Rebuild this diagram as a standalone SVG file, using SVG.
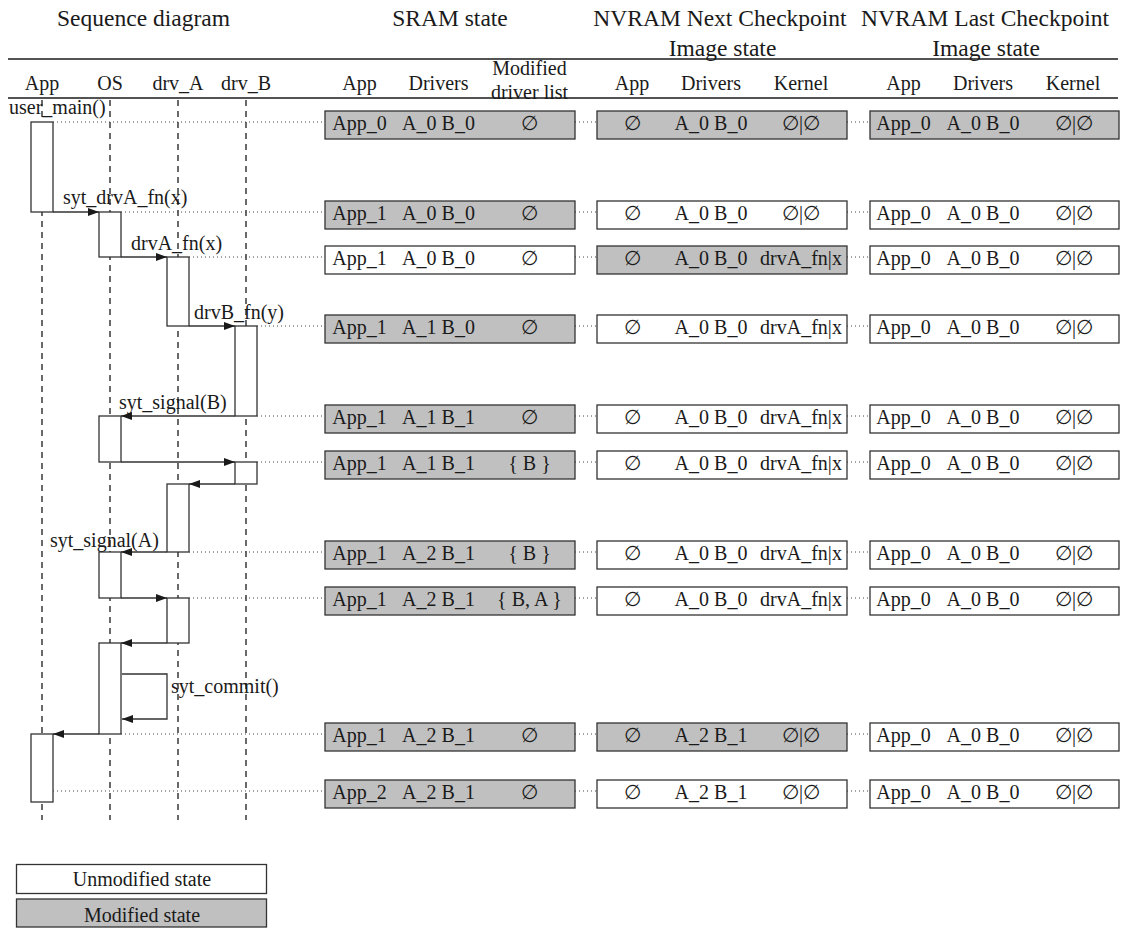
<svg xmlns="http://www.w3.org/2000/svg" width="1123" height="929" viewBox="0 0 1123 929">
<defs>
<style>
text { font-family: "Liberation Serif", "DejaVu Serif", serif; fill:#1a1a1a; }
.t { font-size:23.5px; text-anchor:middle; }
.h { font-size:20px; text-anchor:middle; }
.b { font-size:20px; text-anchor:middle; }
.l { font-size:20px; }
.rule { stroke:#1a1a1a; stroke-width:1.3; }
.life { stroke:#1a1a1a; stroke-width:1.3; stroke-dasharray:6 5; fill:none; }
.act { fill:#fff; stroke:#333; stroke-width:1.3; }
.msg { stroke:#333; stroke-width:1.3; fill:none; marker-end:url(#ah); }
.dot { stroke:#444; stroke-width:1; stroke-dasharray:1 3; fill:none; }
.mod { fill:#c0c0c0; stroke:#333; stroke-width:1.3; }
.unm { fill:#fff; stroke:#333; stroke-width:1.3; }
</style>
<marker id="ah" markerUnits="userSpaceOnUse" markerWidth="11" markerHeight="8" refX="11" refY="4" orient="auto"><path d="M0,0 L11,4 L0,8 z" fill="#1a1a1a"/></marker>
</defs>
<rect width="1123" height="929" fill="#fff"/>

<g id="titles">
<text class="t" x="143.5" y="26">Sequence diagram</text>
<text class="t" x="450" y="26">SRAM state</text>
<text class="t" x="720" y="26">NVRAM Next Checkpoint</text>
<text class="t" x="985" y="26">NVRAM Last Checkpoint</text>
<text class="t" x="722.5" y="56">Image state</text>
<text class="t" x="986" y="56">Image state</text>
<line class="rule" x1="8" y1="59" x2="1118" y2="59"/>
<line class="rule" x1="8" y1="98" x2="1118" y2="98"/>
</g>

<g id="headers">
<text class="h" x="42" y="90">App</text>
<text class="h" x="110" y="90">OS</text>
<text class="h" x="178" y="90">drv_A</text>
<text class="h" x="246" y="90">drv_B</text>
<text class="h" x="359.5" y="90">App</text>
<text class="h" x="438.5" y="90">Drivers</text>
<text class="h" x="529.5" y="75">Modified</text>
<text class="h" x="529.5" y="99">driver list</text>
<text class="h" x="632" y="90">App</text>
<text class="h" x="711" y="90">Drivers</text>
<text class="h" x="801" y="90">Kernel</text>
<text class="h" x="903.5" y="90">App</text>
<text class="h" x="983" y="90">Drivers</text>
<text class="h" x="1073" y="90">Kernel</text>
</g>

<g id="lifelines">
<line class="life" x1="42" y1="100" x2="42" y2="820"/>
<line class="life" x1="110" y1="100" x2="110" y2="820"/>
<line class="life" x1="178" y1="100" x2="178" y2="820"/>
<line class="life" x1="246" y1="100" x2="246" y2="820"/>
</g>

<g id="activations">
<rect id="act-app-1" class="act" x="31" y="122" width="22" height="90"/>
<rect id="act-os-1" class="act" x="99" y="212" width="22" height="45"/>
<rect id="act-a-1" class="act" x="167" y="257" width="22" height="69"/>
<rect id="act-b-1" class="act" x="235" y="326" width="22" height="90"/>
<rect id="act-os-2" class="act" x="99" y="416" width="22" height="46"/>
<rect id="act-b-2" class="act" x="235" y="462" width="22" height="22"/>
<rect id="act-a-2" class="act" x="167" y="484" width="22" height="68"/>
<rect id="act-os-3" class="act" x="99" y="552" width="22" height="46"/>
<rect id="act-a-3" class="act" x="167" y="598" width="22" height="45"/>
<rect id="act-os-4" class="act" x="99" y="643" width="22" height="91"/>
<rect id="act-app-2" class="act" x="31" y="734" width="22" height="68"/>
</g>

<g id="connectors">
<line class="msg" x1="53" y1="212" x2="99" y2="212"/>
<line class="msg" x1="121" y1="257" x2="167" y2="257"/>
<line class="msg" x1="189" y1="326" x2="235" y2="326"/>
<line class="msg" x1="235" y1="416" x2="121" y2="416"/>
<line class="msg" x1="121" y1="462" x2="235" y2="462"/>
<line class="msg" x1="235" y1="484" x2="189" y2="484"/>
<line class="msg" x1="167" y1="552" x2="121" y2="552"/>
<line class="msg" x1="121" y1="598" x2="167" y2="598"/>
<line class="msg" x1="167" y1="643" x2="121" y2="643"/>
<path class="msg" d="M122,674 H167 V719 H122"/>
<line class="msg" x1="99" y1="734" x2="53" y2="734"/>

<line class="dot" x1="53" y1="122" x2="325" y2="122"/>
<line class="dot" x1="121" y1="212" x2="325" y2="212"/>
<line class="dot" x1="189" y1="257" x2="325" y2="257"/>
<line class="dot" x1="257" y1="326" x2="325" y2="326"/>
<line class="dot" x1="257" y1="416" x2="325" y2="416"/>
<line class="dot" x1="257" y1="462" x2="325" y2="462"/>
<line class="dot" x1="189" y1="552" x2="325" y2="552"/>
<line class="dot" x1="189" y1="598" x2="325" y2="598"/>
<line class="dot" x1="121" y1="734" x2="325" y2="734"/>
<line class="dot" x1="53" y1="791" x2="325" y2="791"/>

<path class="dot" d="M575,122 H597 M847,122 H870 M575,212 H597 M847,212 H870 M575,257 H597 M847,257 H870 M575,326 H597 M847,326 H870 M575,416 H597 M847,416 H870 M575,462 H597 M847,462 H870 M575,552 H597 M847,552 H870 M575,598 H597 M847,598 H870 M575,734 H597 M847,734 H870 M575,791 H597 M847,791 H870"/>
</g>

<g id="message-labels">
<text class="l" x="9" y="114">user_main()</text>
<text class="l" x="63" y="204">syt_drvA_fn(x)</text>
<text class="l" x="131" y="250">drvA_fn(x)</text>
<text class="l" x="194" y="319">drvB_fn(y)</text>
<text class="l" x="119" y="409">syt_signal(B)</text>
<text class="l" x="50" y="547">syt_signal(A)</text>
<text class="l" x="171" y="693">syt_commit()</text>
</g>

<g id="row1" transform="translate(0,122)">
<g id="r1-sram"><rect class="mod" x="325" y="-11" width="250" height="28"/><text class="b" x="359.5" y="8">App_0</text><text class="b" x="438.5" y="8">A_0 B_0</text><text class="b" x="529.5" y="8">∅</text></g>
<g id="r1-next"><rect class="mod" x="597" y="-11" width="250" height="28"/><text class="b" x="632" y="8">∅</text><text class="b" x="711" y="8">A_0 B_0</text><text class="b" x="801" y="8">∅|∅</text></g>
<g id="r1-last"><rect class="mod" x="870" y="-11" width="249" height="28"/><text class="b" x="903.5" y="8">App_0</text><text class="b" x="983" y="8">A_0 B_0</text><text class="b" x="1074" y="8">∅|∅</text></g>
</g>

<g id="row2" transform="translate(0,212)">
<g id="r2-sram"><rect class="mod" x="325" y="-11" width="250" height="28"/><text class="b" x="359.5" y="8">App_1</text><text class="b" x="438.5" y="8">A_0 B_0</text><text class="b" x="529.5" y="8">∅</text></g>
<g id="r2-next"><rect class="unm" x="597" y="-11" width="250" height="28"/><text class="b" x="632" y="8">∅</text><text class="b" x="711" y="8">A_0 B_0</text><text class="b" x="801" y="8">∅|∅</text></g>
<g id="r2-last"><rect class="unm" x="870" y="-11" width="249" height="28"/><text class="b" x="903.5" y="8">App_0</text><text class="b" x="983" y="8">A_0 B_0</text><text class="b" x="1074" y="8">∅|∅</text></g>
</g>

<g id="row3" transform="translate(0,257)">
<g id="r3-sram"><rect class="unm" x="325" y="-11" width="250" height="28"/><text class="b" x="359.5" y="8">App_1</text><text class="b" x="438.5" y="8">A_0 B_0</text><text class="b" x="529.5" y="8">∅</text></g>
<g id="r3-next"><rect class="mod" x="597" y="-11" width="250" height="28"/><text class="b" x="632" y="8">∅</text><text class="b" x="711" y="8">A_0 B_0</text><text class="b" x="801" y="8">drvA_fn|x</text></g>
<g id="r3-last"><rect class="unm" x="870" y="-11" width="249" height="28"/><text class="b" x="903.5" y="8">App_0</text><text class="b" x="983" y="8">A_0 B_0</text><text class="b" x="1074" y="8">∅|∅</text></g>
</g>

<g id="row4" transform="translate(0,326)">
<g id="r4-sram"><rect class="mod" x="325" y="-11" width="250" height="28"/><text class="b" x="359.5" y="8">App_1</text><text class="b" x="438.5" y="8">A_1 B_0</text><text class="b" x="529.5" y="8">∅</text></g>
<g id="r4-next"><rect class="unm" x="597" y="-11" width="250" height="28"/><text class="b" x="632" y="8">∅</text><text class="b" x="711" y="8">A_0 B_0</text><text class="b" x="801" y="8">drvA_fn|x</text></g>
<g id="r4-last"><rect class="unm" x="870" y="-11" width="249" height="28"/><text class="b" x="903.5" y="8">App_0</text><text class="b" x="983" y="8">A_0 B_0</text><text class="b" x="1074" y="8">∅|∅</text></g>
</g>

<g id="row5" transform="translate(0,416)">
<g id="r5-sram"><rect class="mod" x="325" y="-11" width="250" height="28"/><text class="b" x="359.5" y="8">App_1</text><text class="b" x="438.5" y="8">A_1 B_1</text><text class="b" x="529.5" y="8">∅</text></g>
<g id="r5-next"><rect class="unm" x="597" y="-11" width="250" height="28"/><text class="b" x="632" y="8">∅</text><text class="b" x="711" y="8">A_0 B_0</text><text class="b" x="801" y="8">drvA_fn|x</text></g>
<g id="r5-last"><rect class="unm" x="870" y="-11" width="249" height="28"/><text class="b" x="903.5" y="8">App_0</text><text class="b" x="983" y="8">A_0 B_0</text><text class="b" x="1074" y="8">∅|∅</text></g>
</g>

<g id="row6" transform="translate(0,462)">
<g id="r6-sram"><rect class="mod" x="325" y="-11" width="250" height="28"/><text class="b" x="359.5" y="8">App_1</text><text class="b" x="438.5" y="8">A_1 B_1</text><text class="b" x="529.5" y="8">{ B }</text></g>
<g id="r6-next"><rect class="unm" x="597" y="-11" width="250" height="28"/><text class="b" x="632" y="8">∅</text><text class="b" x="711" y="8">A_0 B_0</text><text class="b" x="801" y="8">drvA_fn|x</text></g>
<g id="r6-last"><rect class="unm" x="870" y="-11" width="249" height="28"/><text class="b" x="903.5" y="8">App_0</text><text class="b" x="983" y="8">A_0 B_0</text><text class="b" x="1074" y="8">∅|∅</text></g>
</g>

<g id="row7" transform="translate(0,552)">
<g id="r7-sram"><rect class="mod" x="325" y="-11" width="250" height="28"/><text class="b" x="359.5" y="8">App_1</text><text class="b" x="438.5" y="8">A_2 B_1</text><text class="b" x="529.5" y="8">{ B }</text></g>
<g id="r7-next"><rect class="unm" x="597" y="-11" width="250" height="28"/><text class="b" x="632" y="8">∅</text><text class="b" x="711" y="8">A_0 B_0</text><text class="b" x="801" y="8">drvA_fn|x</text></g>
<g id="r7-last"><rect class="unm" x="870" y="-11" width="249" height="28"/><text class="b" x="903.5" y="8">App_0</text><text class="b" x="983" y="8">A_0 B_0</text><text class="b" x="1074" y="8">∅|∅</text></g>
</g>

<g id="row8" transform="translate(0,598)">
<g id="r8-sram"><rect class="mod" x="325" y="-11" width="250" height="28"/><text class="b" x="359.5" y="8">App_1</text><text class="b" x="438.5" y="8">A_2 B_1</text><text class="b" x="529.5" y="8">{ B, A }</text></g>
<g id="r8-next"><rect class="unm" x="597" y="-11" width="250" height="28"/><text class="b" x="632" y="8">∅</text><text class="b" x="711" y="8">A_0 B_0</text><text class="b" x="801" y="8">drvA_fn|x</text></g>
<g id="r8-last"><rect class="unm" x="870" y="-11" width="249" height="28"/><text class="b" x="903.5" y="8">App_0</text><text class="b" x="983" y="8">A_0 B_0</text><text class="b" x="1074" y="8">∅|∅</text></g>
</g>

<g id="row9" transform="translate(0,734)">
<g id="r9-sram"><rect class="mod" x="325" y="-11" width="250" height="28"/><text class="b" x="359.5" y="8">App_1</text><text class="b" x="438.5" y="8">A_2 B_1</text><text class="b" x="529.5" y="8">∅</text></g>
<g id="r9-next"><rect class="mod" x="597" y="-11" width="250" height="28"/><text class="b" x="632" y="8">∅</text><text class="b" x="711" y="8">A_2 B_1</text><text class="b" x="801" y="8">∅|∅</text></g>
<g id="r9-last"><rect class="unm" x="870" y="-11" width="249" height="28"/><text class="b" x="903.5" y="8">App_0</text><text class="b" x="983" y="8">A_0 B_0</text><text class="b" x="1074" y="8">∅|∅</text></g>
</g>

<g id="row10" transform="translate(0,791)">
<g id="r10-sram"><rect class="mod" x="325" y="-11" width="250" height="28"/><text class="b" x="359.5" y="8">App_2</text><text class="b" x="438.5" y="8">A_2 B_1</text><text class="b" x="529.5" y="8">∅</text></g>
<g id="r10-next"><rect class="unm" x="597" y="-11" width="250" height="28"/><text class="b" x="632" y="8">∅</text><text class="b" x="711" y="8">A_2 B_1</text><text class="b" x="801" y="8">∅|∅</text></g>
<g id="r10-last"><rect class="unm" x="870" y="-11" width="249" height="28"/><text class="b" x="903.5" y="8">App_0</text><text class="b" x="983" y="8">A_0 B_0</text><text class="b" x="1074" y="8">∅|∅</text></g>
</g>

<g id="legend">
<g id="legend-unmodified"><rect class="unm" x="16.5" y="864.5" width="250" height="29"/><text class="b" x="142" y="886">Unmodified state</text></g>
<g id="legend-modified"><rect class="mod" x="16.5" y="899" width="250" height="28"/><text class="b" x="142" y="922">Modified state</text></g>
</g>
</svg>
